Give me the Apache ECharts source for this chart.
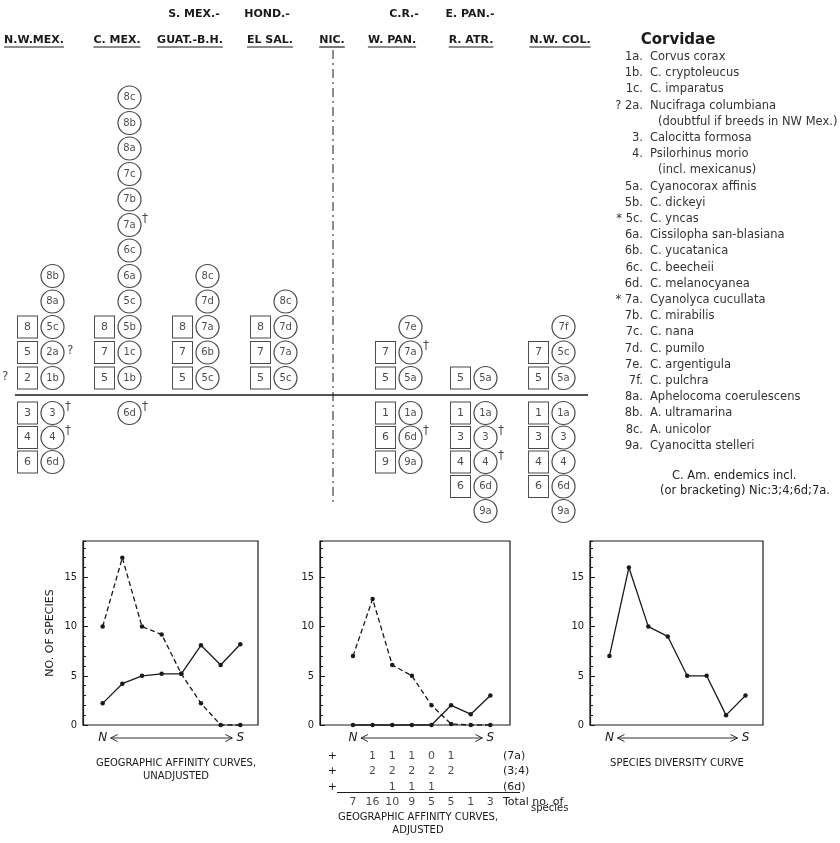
<!DOCTYPE html>
<html>
<head>
<meta charset="utf-8">
<title>Corvidae</title>
<script src="https://cdn.jsdelivr.net/npm/echarts@6.0.0/dist/echarts.min.js"></script>
<style>
  html, body { margin: 0; padding: 0; background: #fff; }
  #chart { width: 840px; height: 843px; }
</style>
</head>
<body>
<div id="chart"></div>
<script>
// ---- data ----
const regionsTop = ["", "", "S. MEX.-", "HOND.-", "", "C.R.-", "E. PAN.-", ""];
const regions = ["N.W.MEX.", "C. MEX.", "GUAT.-B.H.", "EL SAL.", "NIC.", "W. PAN.", "R. ATR.", "N.W. COL."];

// circled species, listed upward from the line / downward from the line
const speciesAbove = [
  ["1b", "2a?", "5c", "8a", "8b"],
  ["1b", "1c", "5b", "5c", "6a", "6c", "7a†", "7b", "7c", "8a", "8b", "8c"],
  ["5c", "6b", "7a", "7d", "8c"],
  ["5c", "7a", "7d", "8c"],
  [],
  ["5a", "7a†", "7e"],
  ["5a"],
  ["5a", "5c", "7f"]
];
const speciesBelow = [
  ["3†", "4†", "6d"],
  ["6d†"],
  [], [], [],
  ["1a", "6d†", "9a"],
  ["1a", "3†", "4†", "6d", "9a"],
  ["1a", "3", "4", "6d", "9a"]
];
// boxed genera
const generaAbove = [["?2", "5", "8"], ["5", "7", "8"], ["5", "7", "8"], ["5", "7", "8"], [], ["5", "7"], ["5"], ["5", "7"]];
const generaBelow = [["3", "4", "6"], [], [], [], [], ["1", "6", "9"], ["1", "3", "4", "6"], ["1", "3", "4", "6"]];

const legendCodes = ["1a.", "1b.", "1c.", "? 2a.", "", "3.", "4.", "", "5a.", "5b.", "* 5c.", "6a.", "6b.", "6c.", "6d.",
  "* 7a.", "7b.", "7c.", "7d.", "7e.", "7f.", "8a.", "8b.", "8c.", "9a."];
const legendNames = ["Corvus corax", "C. cryptoleucus", "C. imparatus", "Nucifraga columbiana",
  "(doubtful if breeds in NW Mex.)", "Calocitta formosa", "Psilorhinus morio", "(incl. mexicanus)",
  "Cyanocorax affinis", "C. dickeyi", "C. yncas", "Cissilopha san-blasiana", "C. yucatanica",
  "C. beecheii", "C. melanocyanea", "Cyanolyca cucullata", "C. mirabilis", "C. nana", "C. pumilo",
  "C. argentigula", "C. pulchra", "Aphelocoma coerulescens", "A. ultramarina", "A. unicolor", "Cyanocitta stelleri"];
const noteLines = ["C. Am. endemics incl.", "(or bracketing) Nic:3;4;6d;7a."];

// curves, N to S
const unadjNorth = [10, 17, 10, 9.2, 5.2, 2.2, 0, 0];
const unadjSouth = [2.2, 4.2, 5, 5.2, 5.2, 8.1, 6.1, 8.2];
const adjNorth = [7, 12.8, 6.1, 5, 2, 0.1, 0, 0];
const adjSouth = [0, 0, 0, 0, 0, 2, 1.1, 3];
const diversity = [7, 16, 10, 9, 5, 5, 1, 3];
const yTicks = [0, 5, 10, 15];

const adjLabels = ["(7a)", "(3;4)", "(6d)", "Total no. of"];
const adj7a = [null, 1, 1, 1, 0, 1, null, null];
const adj34 = [null, 2, 2, 2, 2, 2, null, null];
const adj6d = [null, null, 1, 1, 1, null, null, null];
const totals = [7, 16, 10, 9, 5, 5, 1, 3];

// ---- layout ----
const SANS = '"DejaVu Sans", sans-serif';
const NARROW = '"DejaVu Sans Condensed", "Liberation Sans Narrow", "DejaVu Sans", sans-serif';
const INK = "#1a1a1a";

const colX = [40, 117, 195, 273, 333, 398, 473, 551];
const headX = [34, 117, 190, 270, 332, 392, 471, 560];
const headTopX = [0, 0, 194, 267, 0, 404, 470, 0];
const HEAD_Y1 = 14, HEAD_Y2 = 40;
const UP_ROW0 = 378, UP_STEP = 25.5, UP_ROWS = 12;
const DN_ROW1 = 413, DN_STEP = 24.5, DN_ROWS = 5;
const LINE_Y = 395;
const LEG_TOP = 57, LEG_STEP = 16.2, LEG_CODE_X = 643, LEG_NAME_X = 650;

const plots = [
  { left: 83, width: 175, xMin: -1, xMax: 7.9, curves: [[unadjNorth, true], [unadjSouth, false]], name: "NO. OF SPECIES",
    title: ["GEOGRAPHIC AFFINITY CURVES,", "UNADJUSTED"], titleX: 176, titleY: 763 },
  { left: 320, width: 190, xMin: -1.68, xMax: 8, curves: [[adjNorth, true], [adjSouth, false]], name: "",
    title: ["GEOGRAPHIC AFFINITY CURVES,", "ADJUSTED"], titleX: 418, titleY: 817 },
  { left: 590, width: 173, xMin: -1, xMax: 7.9, curves: [[diversity, false]], name: "",
    title: ["SPECIES DIVERSITY CURVE"], titleX: 677, titleY: 763 }
];
const PLOT_TOP = 541, PLOT_H = 184, Y_MAX = 18.7;
const ADJ_LEFT = 340, ADJ_RIGHT = 500, ADJ_TOP = 748, ADJ_H = 62;

const chart = echarts.init(document.getElementById("chart"));
const grids = [], xAxes = [], yAxes = [], series = [], graphics = [];

function text(str, x, y, o = {}) {
  return {
    type: "text", x, y, silent: true,
    style: {
      text: str, fill: o.fill || INK, align: o.align || "left", verticalAlign: "middle",
      fontSize: o.size || 11, fontFamily: o.family || SANS, fontWeight: o.weight || "normal",
      fontStyle: o.style || "normal"
    }
  };
}
function line(x1, y1, x2, y2, o = {}) {
  return { type: "line", silent: true, shape: { x1, y1, x2, y2 },
    style: { stroke: o.stroke || INK, lineWidth: o.width || 1, lineDash: o.dash || null } };
}
const measure = document.createElement("canvas").getContext("2d");

// ---- header ----
regions.forEach((r, c) => {
  if (regionsTop[c]) graphics.push(text(regionsTop[c], headTopX[c], HEAD_Y1, { align: "center", weight: "bold" }));
  graphics.push(text(r, headX[c], HEAD_Y2, { align: "center", weight: "bold" }));
  measure.font = "bold 11px " + SANS;
  const w = measure.measureText(r).width;
  graphics.push(line(headX[c] - w / 2, HEAD_Y2 + 7, headX[c] + w / 2, HEAD_Y2 + 7, { width: 1.2 }));
});
graphics.push(text("Corvidae", 678, HEAD_Y2, { align: "center", weight: "bold", size: 15 }));

// divider and Nicaragua line
graphics.push(line(15, LINE_Y, 588, LINE_Y, { width: 1.5 }));
graphics.push(line(333, 50, 333, 505, { width: 1, dash: [9, 4, 2, 4] }));

// ---- species table ----
function splitMark(code) {
  if (code[0] === "?") return [code.slice(1), "?", "left"];
  const last = code.slice(-1);
  if (last === "†" || last === "?") return [code.slice(0, -1), last, "right"];
  return [code, null, null];
}
regions.forEach((r, c) => {
  [[true, speciesAbove[c], generaAbove[c]], [false, speciesBelow[c], generaBelow[c]]].forEach(([up, sp, ge]) => {
    if (!sp.length && !ge.length) return;
    const gi = grids.length;
    grids.push(up
      ? { left: colX[c] - 25, width: 50, top: UP_ROW0 - (UP_ROWS - 0.5) * UP_STEP, height: UP_ROWS * UP_STEP }
      : { left: colX[c] - 25, width: 50, top: DN_ROW1 - 0.5 * DN_STEP, height: DN_ROWS * DN_STEP });
    const xi = xAxes.length, yi = yAxes.length;
    xAxes.push({ gridIndex: gi, type: "category", data: ["box", "sp"], show: false });
    yAxes.push(up
      ? { gridIndex: gi, type: "value", min: -0.5, max: UP_ROWS - 0.5, show: false }
      : { gridIndex: gi, type: "value", min: 0.5, max: DN_ROWS + 0.5, inverse: true, show: false });
    const row = (i) => (up ? i : i + 1);
    const marks = [];
    series.push({
      type: "scatter", xAxisIndex: xi, yAxisIndex: yi, silent: true, symbol: "rect", symbolSize: [20, 22],
      itemStyle: { color: "#fff", borderColor: INK, borderWidth: 1 },
      label: { show: true, position: "inside", color: INK, fontSize: 11, fontFamily: SANS, formatter: (p) => p.name },
      data: ge.map((g, i) => {
        const [name, m] = splitMark(g);
        if (m) marks.push({ value: ["box", row(i)], mark: m, label: { position: [-25, -7] } });
        return { name, value: ["box", row(i)] };
      })
    });
    series.push({
      type: "scatter", xAxisIndex: xi, yAxisIndex: yi, silent: true, symbol: "circle", symbolSize: 23,
      itemStyle: { color: "#fff", borderColor: INK, borderWidth: 1.2 },
      label: { show: true, position: "inside", color: INK, fontSize: 10, fontFamily: SANS, formatter: (p) => p.name },
      data: sp.map((s, i) => {
        const [name, m] = splitMark(s);
        if (m) marks.push({ value: ["sp", row(i)], mark: m, label: { position: m === "†" ? [13, -12] : [15, -7] } });
        return { name, value: ["sp", row(i)] };
      })
    });
    if (marks.length) series.push({
      type: "scatter", xAxisIndex: xi, yAxisIndex: yi, silent: true, symbolSize: 1,
      itemStyle: { color: "rgba(0,0,0,0)" },
      label: { show: true, color: INK, fontSize: 12, fontFamily: SANS, formatter: (p) => p.data.mark },
      data: marks
    });
  });
});

// ---- legend ----
legendCodes.forEach((code, i) => {
  const y = LEG_TOP + i * LEG_STEP;
  if (code) graphics.push(text(code, LEG_CODE_X, y, { align: "right", fill: "#333", size: 11.5 }));
  graphics.push(text(legendNames[i], code ? LEG_NAME_X : LEG_NAME_X + 8, y, { fill: "#333", size: 11.5 }));
});
const noteY = LEG_TOP + (legendCodes.length - 1) * LEG_STEP + 30;
graphics.push(text(noteLines[0], LEG_NAME_X + 22, noteY, { fill: "#222", size: 11.5 }));
graphics.push(text(noteLines[1], LEG_NAME_X + 10, noteY + 15, { fill: "#222", size: 11.5 }));

// ---- curve plots ----
const plotAxis = [];
plots.forEach((b, k) => {
  const gi = grids.length;
  grids.push({ left: b.left, width: b.width, top: PLOT_TOP, height: PLOT_H, show: true, borderColor: INK, borderWidth: 1.2 });
  const xi = xAxes.length;
  xAxes.push({ gridIndex: gi, type: "value", min: b.xMin, max: b.xMax, show: false });
  const yi = yAxes.length;
  yAxes.push({
    gridIndex: gi, type: "value", position: "left", min: 0, max: Y_MAX, interval: 5,
    axisLine: { show: true, onZero: false, lineStyle: { color: INK, width: 1.2 } },
    axisTick: { show: true, inside: true, length: 5, lineStyle: { color: INK } },
    axisLabel: { show: true, showMaxLabel: false, color: INK, fontSize: 11, fontFamily: NARROW, margin: 6,
      formatter: (v) => (yTicks.includes(v) ? String(v) : "") },
    splitLine: { show: false },
    name: b.name, nameLocation: "middle", nameGap: 27,
    nameTextStyle: { color: INK, fontSize: 11, fontFamily: SANS }
  });
  yAxes.push({
    gridIndex: gi, type: "value", position: "left", min: 0, max: Y_MAX, interval: 1,
    axisLine: { show: false, onZero: false }, axisTick: { show: true, inside: true, length: 3, lineStyle: { color: INK } },
    axisLabel: { show: false }, splitLine: { show: false }
  });
  plotAxis.push(xi);
  b.curves.forEach(([vals, dashed]) => {
    series.push({
      type: "line", xAxisIndex: xi, yAxisIndex: yi, silent: true, clip: false,
      symbol: "circle", symbolSize: 4.5, itemStyle: { color: INK },
      lineStyle: { color: INK, width: 1.3, type: dashed ? [5, 3] : "solid" },
      data: vals.map((v, i) => [i, v])
    });
  });
  b.title.forEach((t, j) => graphics.push(text(t, b.titleX, b.titleY + j * 13, { align: "center", size: 10 })));
});

// ---- additions table under the adjusted plot ----
{
  const b = plots[1];
  const vOf = (px) => b.xMin + ((px - b.left) / b.width) * (b.xMax - b.xMin);
  const gi = grids.length;
  grids.push({ left: ADJ_LEFT, width: ADJ_RIGHT - ADJ_LEFT, top: ADJ_TOP, height: ADJ_H });
  const xi = xAxes.length;
  xAxes.push({ gridIndex: gi, type: "value", min: vOf(ADJ_LEFT), max: vOf(ADJ_RIGHT), show: false });
  const yi = yAxes.length;
  yAxes.push({ gridIndex: gi, type: "category", data: adjLabels, inverse: true, position: "right",
    axisLine: { show: false }, axisTick: { show: false },
    axisLabel: { color: INK, fontSize: 11, fontFamily: SANS, margin: 3 } });
  yAxes.push({ gridIndex: gi, type: "category", data: adjLabels, inverse: true, position: "left",
    axisLine: { show: false }, axisTick: { show: false },
    axisLabel: { color: INK, fontSize: 11, fontFamily: SANS, margin: 3, formatter: (v, i) => (i < 3 ? "+" : "") } });
  const rows = [adj7a, adj34, adj6d, totals];
  const data = [];
  rows.forEach((vals, r) => vals.forEach((v, i) => { if (v !== null) data.push([i, r, v]); }));
  series.push({
    type: "scatter", xAxisIndex: xi, yAxisIndex: yi, silent: true, symbolSize: 1,
    itemStyle: { color: "rgba(0,0,0,0)" },
    label: { show: true, position: "inside", color: INK, fontSize: 11, fontFamily: SANS, formatter: (p) => String(p.value[2]) },
    data
  });
  const rule = ADJ_TOP + ADJ_H * 0.75 - 2;
  graphics.push(line(ADJ_LEFT - 3, rule, ADJ_RIGHT + 20, rule, { width: 1 }));
  graphics.push(text("species", 531, ADJ_TOP + ADJ_H - 2, { size: 10 }));
}

chart.setOption({ animation: false, backgroundColor: "#fff", grid: grids, xAxis: xAxes, yAxis: yAxes, series, graphic: graphics });

// N <-> S arrows under each plot, placed from the plot's own x axis
const arrows = [];
plotAxis.forEach((xi) => {
  const xN = chart.convertToPixel({ xAxisIndex: xi }, 0);
  const xS = chart.convertToPixel({ xAxisIndex: xi }, diversity.length - 1);
  const y = PLOT_TOP + PLOT_H + 13;
  arrows.push(text("N", xN, y, { align: "center", style: "italic", size: 12 }));
  arrows.push(text("S", xS, y, { align: "center", style: "italic", size: 12 }));
  arrows.push(line(xN + 8, y, xS - 8, y, { width: 0.9 }));
  arrows.push({ type: "polyline", silent: true, shape: { points: [[xN + 15, y - 3.5], [xN + 8, y], [xN + 15, y + 3.5]] },
    style: { stroke: INK, fill: null, lineWidth: 0.9 } });
  arrows.push({ type: "polyline", silent: true, shape: { points: [[xS - 15, y - 3.5], [xS - 8, y], [xS - 15, y + 3.5]] },
    style: { stroke: INK, fill: null, lineWidth: 0.9 } });
});
chart.setOption({ graphic: graphics.concat(arrows) });
</script>
</body>
</html>
